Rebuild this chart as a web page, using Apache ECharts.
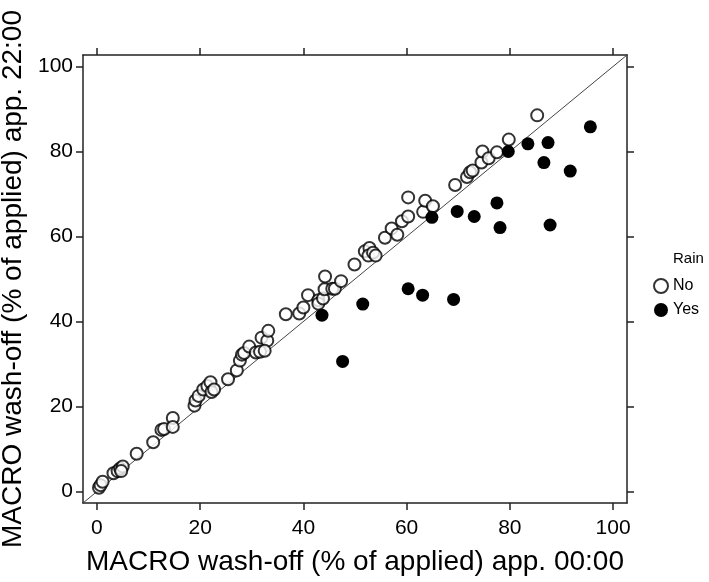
<!DOCTYPE html>
<html><head><meta charset="utf-8">
<script src="https://cdn.jsdelivr.net/npm/echarts@6/dist/echarts.min.js"></script>
<style>html,body{margin:0;padding:0;background:#fff}#c{width:709px;height:582px}</style>
</head><body><div id="c"></div>
<script>
// Rain = No (open circles): [x, y]
const noX = [0.4,0.7,1.1,3.2,4.0,4.5,5.0,4.7,7.7,10.9,12.5,13.0,14.7,14.7,18.9,19.1,19.7,20.6,21.4,22.0,22.2,22.7,25.4,27.1,27.7,28.1,28.5,29.5,30.8,31.6,31.9,33.0,33.2,32.5,36.6,39.2,40.0,40.9,42.9,42.9,43.8,44.1,44.2,45.6,46.1,47.3,49.9,51.9,52.8,52.6,53.5,54.0,55.8,57.1,58.2,59.1,60.3,60.3,63.2,63.6,65.1,69.4,71.7,72.3,72.8,74.5,74.7,75.9,77.5,79.8,85.3];
const noY = [0.9,1.5,2.3,4.3,4.8,5.4,5.9,4.8,8.9,11.6,14.5,14.7,17.3,15.2,20.2,21.4,22.5,24.0,24.8,25.7,23.4,24.0,26.4,28.5,30.8,32.2,32.6,34.1,32.7,32.9,36.2,35.5,37.8,33.1,41.7,41.9,43.3,46.2,45.0,44.2,45.4,47.6,50.6,47.7,47.7,49.5,53.4,56.5,57.3,55.5,56.2,55.5,59.7,61.9,60.4,63.6,64.7,69.2,65.8,68.4,67.1,72.1,74.0,75.1,75.5,77.4,80.0,78.4,79.8,82.8,88.5];
// Rain = Yes (filled circles)
const yesX = [43.6,47.6,51.5,60.3,63.1,69.1,64.9,69.8,73.1,77.5,78.1,79.7,83.5,87.4,86.6,91.7,87.8,95.6];
const yesY = [41.5,30.6,44.1,47.7,46.2,45.2,64.5,65.9,64.7,67.9,62.1,80.0,81.8,82.1,77.4,75.4,62.7,85.8];
const tickValues = [0,20,40,60,80,100];
const axisLimits = [-2.7, 102.7];
const xTitle = 'MACRO wash-off (% of applied) app. 00:00';
const yTitle = 'MACRO wash-off (% of applied) app. 22:00';
const legendTitle = 'Rain';
const seriesNames = ['No','Yes'];

const font = 'Arial, "Liberation Sans", Helvetica, sans-serif';
const zip = (a,b) => a.map((v,i)=>[v,b[i]]);
const lineCol = '#222';
function mkAxis(pos, show, name){
  return {
    type:'value', position:pos, min:axisLimits[0], max:axisLimits[1],
    name: name || '', nameLocation:'middle',
    nameGap: pos==='bottom'?45:42,
    nameTextStyle:{fontFamily:font,fontSize:28,color:'#000'},
    axisLine:{show:true,onZero:false,lineStyle:{color:lineCol,width:1.5}},
    axisTick:{show:true,inside:false,length:7,customValues:tickValues,lineStyle:{color:lineCol,width:1.5}},
    axisLabel:{show:show,customValues:tickValues,margin:pos==='bottom'?15:10,fontFamily:font,fontSize:21,color:'#000'},
    splitLine:{show:false}
  };
}
const chart = echarts.init(document.getElementById('c'), null, {renderer:'canvas'});
chart.setOption({
  animation:false,
  backgroundColor:'#fff',
  grid:{left:83,right:82,top:55,bottom:79,containLabel:false,outerBoundsMode:'none'},
  title:{text:legendTitle,left:668,top:246,textStyle:{fontFamily:font,fontSize:15,fontWeight:'normal',color:'#000'}},
  legend:{orient:'vertical',left:648,top:273,itemGap:8,itemWidth:14,itemHeight:14,
    data:seriesNames,textStyle:{fontFamily:font,fontSize:16,color:'#000'}},
  xAxis:[mkAxis('bottom',true,xTitle), mkAxis('top',false)],
  yAxis:[mkAxis('left',true,yTitle), mkAxis('right',false)],
  series:[
    {type:'line',data:zip(axisLimits,axisLimits),symbol:'none',silent:true,
     lineStyle:{color:'#444',width:1},z:1},
    {name:seriesNames[0],type:'scatter',data:zip(noX,noY),symbol:'circle',symbolSize:12,
     itemStyle:{color:'#fff',borderColor:'#000',borderWidth:2},z:3},
    {name:seriesNames[1],type:'scatter',data:zip(yesX,yesY),symbol:'circle',symbolSize:13,
     itemStyle:{color:'#000',borderColor:'#000',borderWidth:0,opacity:1},z:4}
  ]
});
</script></body></html>
